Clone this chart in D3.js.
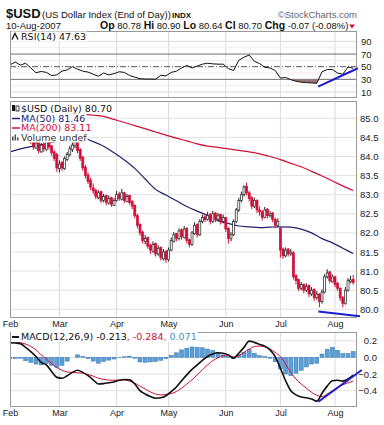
<!DOCTYPE html>
<html>
<head>
<meta charset="utf-8">
<script src="https://cdn.jsdelivr.net/npm/d3@7"></script>
<style>
	body { margin: 0; background: #fff; }
	svg { display: block; }
	text { font-family: "Liberation Sans", Arial, sans-serif; fill: #111; }
	.legend text, .legend tspan { font-family: "DejaVu Sans", Verdana, sans-serif; font-size: 9.5px; }
	.tick text { font-family: "Liberation Sans", Arial, sans-serif; font-size: 9.5px; fill: #222; }
</style>
</head>
<body>
<svg width="384" height="425"></svg>
<script>
// Trading-day index of the first session of each month (Feb 1 = day 0)
var month_days = [0, 19, 41, 61, 83, 104, 125];
var month_labels = ['Feb', 'Mar', 'Apr', 'May', 'Jun', 'Jul', 'Aug'];

// Daily bars, one row per session: open, high, low, close
var ohlc = [
	[84.55,84.72,84.50,84.62],[84.60,84.82,84.58,84.75],[84.78,84.85,84.62,84.70],[84.68,84.92,84.65,84.85],
	[84.88,84.90,84.62,84.70],[84.70,84.86,84.66,84.78],[84.80,84.82,84.55,84.60],[84.62,84.68,84.48,84.55],
	[84.55,84.58,84.32,84.40],[84.42,84.45,84.18,84.25],[84.22,84.42,84.20,84.35],[84.38,84.40,84.08,84.15],
	[84.12,84.36,84.10,84.30],[84.32,84.38,84.12,84.20],[84.18,84.46,84.15,84.40],[84.42,84.45,84.18,84.25],
	[84.28,84.30,84.02,84.10],[84.12,84.18,83.88,83.95],[84.05,84.10,83.60,83.70],[83.68,83.90,83.58,83.80],
	[83.85,83.88,83.62,83.70],[83.68,84.00,83.65,83.95],[83.92,84.12,83.88,84.05],[84.05,84.28,84.00,84.20],
	[84.18,84.38,84.12,84.30],[84.28,84.50,84.22,84.40],[84.42,84.45,84.08,84.15],[84.18,84.22,83.88,83.95],
	[83.98,84.02,83.62,83.70],[83.72,83.78,83.42,83.50],[83.52,83.58,83.28,83.35],[83.38,83.45,83.12,83.20],
	[83.18,83.30,83.02,83.10],[83.12,83.16,82.88,82.95],[82.92,83.12,82.88,83.05],[83.08,83.10,82.78,82.85],
	[82.85,83.02,82.80,82.95],[82.98,83.00,82.72,82.80],[82.78,82.98,82.74,82.90],[82.92,82.95,82.68,82.75],
	[82.72,82.92,82.70,82.85],[82.85,83.10,82.82,83.00],[83.02,83.08,82.84,82.90],[82.88,83.15,82.85,83.05],
	[83.05,83.08,82.78,82.85],[82.82,83.02,82.80,82.95],[82.98,83.00,82.74,82.80],[82.82,82.86,82.62,82.70],
	[82.72,82.75,82.38,82.45],[82.45,82.50,82.12,82.20],[82.22,82.25,81.92,82.00],[82.02,82.06,81.72,81.80],
	[81.78,81.95,81.70,81.85],[81.88,81.90,81.58,81.65],[81.68,81.72,81.45,81.55],[81.52,81.78,81.48,81.70],
	[81.72,81.75,81.38,81.45],[81.45,81.68,81.40,81.60],[81.62,81.65,81.28,81.35],[81.32,81.58,81.28,81.50],
	[81.52,81.55,81.22,81.30],[81.30,81.62,81.25,81.55],[81.55,81.88,81.52,81.80],[81.78,82.02,81.75,81.95],
	[81.98,82.00,81.78,81.85],[81.85,82.12,81.80,82.05],[82.08,82.12,81.82,81.90],[81.88,82.18,81.85,82.10],
	[82.12,82.15,81.72,81.80],[81.82,81.85,81.62,81.70],[81.70,82.05,81.66,82.00],[81.98,82.28,81.95,82.20],
	[82.22,82.25,81.88,81.95],[81.95,82.36,81.92,82.30],[82.30,82.48,82.25,82.40],[82.42,82.50,82.28,82.35],
	[82.35,82.55,82.32,82.45],[82.48,82.52,82.22,82.30],[82.30,82.58,82.26,82.50],[82.52,82.55,82.28,82.35],
	[82.35,82.52,82.30,82.45],[82.48,82.50,82.22,82.30],[82.30,82.48,82.25,82.40],[82.40,82.42,82.02,82.10],
	[82.12,82.15,81.72,81.85],[81.85,82.02,81.78,81.95],[81.95,82.35,81.92,82.30],[82.30,82.65,82.25,82.60],
	[82.60,82.92,82.55,82.85],[82.85,83.08,82.80,83.00],[83.00,83.25,82.95,83.20],[83.22,83.32,82.98,83.05],
	[83.05,83.10,82.82,82.90],[82.92,82.96,82.62,82.70],[82.70,82.92,82.65,82.85],[82.85,82.88,82.52,82.60],
	[82.60,82.70,82.45,82.55],[82.55,82.60,82.32,82.40],[82.40,82.68,82.38,82.60],[82.62,82.65,82.38,82.45],
	[82.45,82.58,82.40,82.50],[82.52,82.55,82.28,82.35],[82.35,82.40,82.12,82.20],[82.20,82.38,82.15,82.30],
	[82.12,82.15,81.35,81.55],[81.58,81.62,81.32,81.40],[81.40,81.62,81.36,81.55],[81.58,81.60,81.38,81.45],
	[81.45,81.58,81.40,81.50],[81.48,81.52,80.78,80.85],[80.88,80.92,80.65,80.75],[80.78,80.80,80.48,80.55],
	[80.55,80.72,80.50,80.65],[80.65,80.68,80.42,80.50],[80.50,80.68,80.45,80.60],[80.62,80.65,80.32,80.40],
	[80.40,80.58,80.35,80.50],[80.52,80.55,80.22,80.30],[80.30,80.48,80.25,80.40],[80.40,80.42,80.05,80.20],
	[80.20,80.52,80.15,80.45],[80.45,80.92,80.42,80.85],[80.85,81.05,80.80,80.95],[80.98,81.00,80.68,80.75],
	[80.72,80.92,80.70,80.85],[80.85,80.88,80.58,80.65],[80.68,80.72,80.48,80.55],[80.55,80.58,80.22,80.30],
	[80.30,80.35,80.05,80.15],[80.15,80.58,80.12,80.50],[80.50,80.82,80.46,80.75],[80.72,80.88,80.68,80.77],
	[80.78,80.90,80.64,80.70]
];

// Moving averages, read every 4th session
var ma_days = d3.range(0, 133, 4);
var ma50 = [84.12,84.20,84.26,84.31,84.37,84.42,84.47,84.48,84.39,84.27,84.10,83.91,83.69,83.41,83.14,82.99,82.84,
	82.69,82.57,82.46,82.32,82.25,82.18,82.16,82.14,82.15,82.16,82.15,82.10,82.00,81.85,81.74,81.60,81.46];
var ma200 = [85.27,85.24,85.21,85.19,85.16,85.13,85.12,85.10,85.08,85.05,84.97,84.89,84.81,84.73,84.64,84.56,84.48,
	84.41,84.33,84.27,84.24,84.20,84.16,84.12,84.07,84.00,83.92,83.82,83.73,83.61,83.49,83.36,83.23,83.11];

// Indicators, read every 2nd session
var ind_days = d3.range(0, 133, 2);
var rsi = [52.7,57.5,52.5,55.5,48,40.5,42.5,41,36,37,43,45,50,46,43,41.5,38,35,40,37,
	39,42,41,36,33.5,31,30.5,30.5,30.2,36.5,35.5,41,43,48,52,48,51,54,55.5,54.5,
	54,54,47,44,60,65,68.5,58.5,55,49,48,44,32,33,29.5,27,25.5,24.8,24.3,23.8,
	42,45.5,45.5,40,38,49.5,47.63];
var macd = [0.175,0.172,0.165,0.12,0.07,0.01,-0.06,-0.09,-0.17,-0.24,-0.25,-0.22,-0.18,-0.155,-0.18,-0.22,-0.27,-0.32,-0.315,-0.305,
	-0.295,-0.275,-0.265,-0.27,-0.32,-0.40,-0.44,-0.47,-0.49,-0.485,-0.46,-0.41,-0.355,-0.28,-0.21,-0.145,-0.09,-0.035,0.01,0.04,
	0.055,0.05,0.03,-0.01,0.05,0.12,0.195,0.18,0.155,0.135,0.09,0.01,-0.13,-0.28,-0.40,-0.45,-0.475,-0.485,-0.50,-0.525,
	-0.43,-0.345,-0.28,-0.275,-0.285,-0.26,-0.213];
var signal = [0.19,0.185,0.175,0.16,0.13,0.09,0.03,-0.02,-0.075,-0.12,-0.155,-0.175,-0.18,-0.185,-0.19,-0.205,-0.225,-0.25,-0.265,-0.272,
	-0.275,-0.272,-0.272,-0.285,-0.31,-0.345,-0.38,-0.415,-0.44,-0.45,-0.445,-0.435,-0.41,-0.37,-0.32,-0.27,-0.21,-0.15,-0.09,-0.04,
	-0.005,0.02,0.02,0.005,0.02,0.06,0.10,0.13,0.135,0.125,0.10,0.06,0.01,-0.08,-0.18,-0.26,-0.32,-0.37,-0.42,-0.455,
	-0.47,-0.44,-0.40,-0.36,-0.33,-0.305,-0.284];

// Hand-drawn trend lines: [day, value] end points
var price_trend = [[118.6, 79.94], [134.6, 79.82]];
var rsi_trend = [[118.5, 18.4], [133.8, 47.5]];
var macd_trend = [[118.6, -0.532], [135.3, -0.152]];

var price_ticks = [80, 80.5, 81, 81.5, 82, 82.5, 83, 83.5, 84, 84.5, 85];
var rsi_ticks = [10, 30, 50, 70, 90];
var macd_ticks = [-0.4, -0.2, 0, 0.2];

var plot_left = 10;
var plot_right = 357;
var rsi_box = [31, 98];
var price_box = [101, 318];
var macd_box = [332, 407];

var svg = d3.select('svg');
var x = d3.scaleLinear().domain([0, 132]).range([10, 353.2]);
var y_rsi = d3.scaleLinear().domain([10, 90]).range([92, 41.4]);
var y_price = d3.scaleLinear().domain([80, 85]).range([309.3, 118.3]);
var y_macd = d3.scaleLinear().domain([-0.4, 0.2]).range([390.7, 340.7]);

var red = '#d0103a';
var navy = '#22226e';
var blue_line = '#1c1ccf';

// Header
var header = svg.append('g');
header.append('text').attr('x', 6).attr('y', 18)
	.style('font-size', '13px').style('font-weight', 'bold').text('$USD');
header.append('text').attr('x', 42).attr('y', 18)
	.style('font-size', '9.5px').text('(US Dollar Index (End of Day))');
header.append('text').attr('x', 172).attr('y', 18)
	.style('font-size', '8px').style('font-weight', 'bold').text('INDX');
header.append('text').attr('x', 357).attr('y', 18).attr('text-anchor', 'end')
	.style('font-size', '9.5px').style('fill', '#666').text('\u00a9StockCharts.com');
header.append('text').attr('x', 6).attr('y', 28.5)
	.style('font-size', '9.5px').text('10-Aug-2007');

var quote = header.append('text').attr('x', 100).attr('y', 28.5).style('font-size', '9.5px');
[['Op', ' 80.78 '], ['Hi', ' 80.90 '], ['Lo', ' 80.64 '], ['Cl', ' 80.70 '], ['Chg', ' -0.07 (-0.08%)']].forEach(function(p)
{
	quote.append('tspan').style('font-weight', 'bold').style('font-size', '10.5px').text(p[0]);
	quote.append('tspan').text(p[1]);
});
header.append('path')
	.attr('d', 'M 349 24.5 L 355 24.5 L 352 28.5 Z')
	.attr('fill', red);

// Panel frames, grids and clipping
function make_panel(box, id)
{
	var g = svg.append('g');
	g.append('rect')
		.attr('x', plot_left).attr('y', box[0])
		.attr('width', plot_right - plot_left).attr('height', box[1] - box[0])
		.attr('fill', '#fff');
	svg.append('clipPath').attr('id', id).append('rect')
		.attr('x', plot_left).attr('y', box[0])
		.attr('width', plot_right - plot_left).attr('height', box[1] - box[0]);
	g.selectAll('.vgrid')
		.data(month_days.slice(1))
		.enter().append('line')
		.attr('x1', d => x(d)).attr('x2', d => x(d))
		.attr('y1', box[0]).attr('y2', box[1])
		.attr('stroke', '#d9d9d9').attr('stroke-width', 1);
	return g;
}

function hgrid(g, values, scale, color)
{
	g.selectAll(null)
		.data(values)
		.enter().append('line')
		.attr('x1', plot_left).attr('x2', plot_right)
		.attr('y1', d => scale(d)).attr('y2', d => scale(d))
		.attr('stroke', color).attr('stroke-width', 1);
}

// RSI panel
var rsi_g = make_panel(rsi_box, 'clip_rsi');
hgrid(rsi_g, [20, 40, 60, 80], y_rsi, '#ececec');
hgrid(rsi_g, [10, 90], y_rsi, '#dadada');
hgrid(rsi_g, [30, 70], y_rsi, '#707070');
rsi_g.append('line')
	.attr('x1', plot_left).attr('x2', plot_right)
	.attr('y1', y_rsi(50)).attr('y2', y_rsi(50))
	.attr('stroke', '#555').attr('stroke-dasharray', '6,2,1,2');

var rsi_pts = ind_days.map((d, i) => [d, rsi[i]]);
var rsi_plot = svg.append('g').attr('clip-path', 'url(#clip_rsi)');
svg.append('clipPath').attr('id', 'clip_rsi_low').append('rect')
	.attr('x', plot_left).attr('y', y_rsi(30))
	.attr('width', plot_right - plot_left).attr('height', rsi_box[1] - y_rsi(30));
rsi_plot.append('path')
	.datum(rsi_pts)
	.attr('clip-path', 'url(#clip_rsi_low)')
	.attr('fill', '#9c7674')
	.attr('d', d3.area().x(d => x(d[0])).y0(y_rsi(30)).y1(d => y_rsi(d[1])));
rsi_plot.append('path')
	.datum(rsi_pts)
	.attr('fill', 'none').attr('stroke', '#111').attr('stroke-width', 1)
	.attr('d', d3.line().x(d => x(d[0])).y(d => y_rsi(d[1])));

// Price panel
var price_g = make_panel(price_box, 'clip_price');
hgrid(price_g, price_ticks, y_price, '#e2e2e2');
var price_plot = svg.append('g').attr('clip-path', 'url(#clip_price)');

price_plot.append('path')
	.datum(ma200)
	.attr('fill', 'none').attr('stroke', red).attr('stroke-width', 1.2)
	.attr('d', d3.line().x((d, i) => x(ma_days[i])).y(d => y_price(d)).curve(d3.curveMonotoneX));
price_plot.append('path')
	.datum(ma50)
	.attr('fill', 'none').attr('stroke', navy).attr('stroke-width', 1.2)
	.attr('d', d3.line().x((d, i) => x(ma_days[i])).y(d => y_price(d)).curve(d3.curveMonotoneX));

function bar_color(d, i)
{
	var prev = i > 0 ? ohlc[i - 1][3] : d[0];
	return d[3] < prev ? red : '#222';
}
var candles = price_plot.selectAll('.candle')
	.data(ohlc)
	.enter().append('g')
	.attr('class', 'candle');
candles.append('line')
	.attr('x1', (d, i) => x(i)).attr('x2', (d, i) => x(i))
	.attr('y1', d => y_price(d[1])).attr('y2', d => y_price(d[2]))
	.attr('stroke', bar_color).attr('stroke-width', 1);
candles.append('rect')
	.attr('x', (d, i) => x(i) - 1)
	.attr('width', 2)
	.attr('y', d => y_price(Math.max(d[0], d[3])))
	.attr('height', d => Math.max(1, Math.abs(y_price(d[0]) - y_price(d[3]))))
	.attr('fill', (d, i) => d[3] > d[0] ? '#fff' : bar_color(d, i))
	.attr('stroke', bar_color).attr('stroke-width', 0.7);

// MACD panel
var macd_g = make_panel(macd_box, 'clip_macd');
hgrid(macd_g, macd_ticks, y_macd, '#e2e2e2');
var macd_plot = svg.append('g').attr('clip-path', 'url(#clip_macd)');
var hist = ind_days.map((d, i) => [d, macd[i] - signal[i]]);
macd_plot.selectAll('.hist')
	.data(hist)
	.enter().append('rect')
	.attr('x', d => x(d[0]) - 2)
	.attr('width', 4)
	.attr('y', d => Math.min(y_macd(0), y_macd(d[1])))
	.attr('height', d => Math.abs(y_macd(d[1]) - y_macd(0)))
	.attr('fill', '#5b9fd6').attr('stroke', '#2f73b4').attr('stroke-width', 0.5);
macd_plot.append('path')
	.datum(signal)
	.attr('fill', 'none').attr('stroke', red).attr('stroke-width', 1)
	.attr('d', d3.line().x((d, i) => x(ind_days[i])).y(d => y_macd(d)).curve(d3.curveMonotoneX));
macd_plot.append('path')
	.datum(macd)
	.attr('fill', 'none').attr('stroke', '#111').attr('stroke-width', 1.6)
	.attr('d', d3.line().x((d, i) => x(ind_days[i])).y(d => y_macd(d)).curve(d3.curveMonotoneX));

// Trend lines (drawn past the right edge, as in the original)
function trend(pts, scale)
{
	svg.append('line')
		.attr('x1', x(pts[0][0])).attr('y1', scale(pts[0][1]))
		.attr('x2', x(pts[1][0])).attr('y2', scale(pts[1][1]))
		.attr('stroke', blue_line).attr('stroke-width', 2);
}

// Borders
[rsi_box, price_box, macd_box].forEach(function(b)
{
	svg.append('rect')
		.attr('x', plot_left + 0.5).attr('y', b[0] + 0.5)
		.attr('width', plot_right - plot_left - 1).attr('height', b[1] - b[0] - 1)
		.attr('fill', 'none').attr('stroke', '#9a9a9a').attr('stroke-width', 1);
});

trend(price_trend, y_price);
trend(rsi_trend, y_rsi);
trend(macd_trend, y_macd);

// Axes
function clean(g)
{
	g.select('.domain').remove();
}
svg.append('g').attr('transform', 'translate(358,0)')
	.call(d3.axisRight(y_price).tickValues(price_ticks).tickFormat(d3.format('.1f')).tickSize(0).tickPadding(2))
	.call(clean);
svg.append('g').attr('transform', 'translate(359,0)')
	.call(d3.axisRight(y_rsi).tickValues(rsi_ticks).tickFormat(d3.format('d')).tickSize(0).tickPadding(2))
	.call(clean);
svg.append('g').attr('transform', 'translate(377,0)')
	.call(d3.axisLeft(y_macd).tickValues(macd_ticks).tickFormat(d3.format('.1f')).tickSize(0).tickPadding(0))
	.call(clean);
var month_axis = d3.axisBottom(x).tickValues(month_days).tickFormat((d, i) => month_labels[i]).tickSize(0).tickPadding(3);
svg.append('g').attr('transform', 'translate(0,' + price_box[1] + ')').call(month_axis).call(clean);
svg.append('g').attr('transform', 'translate(0,' + macd_box[1] + ')').call(month_axis).call(clean);
svg.selectAll('.tick text').filter(function() { return /^[A-Z]/.test(this.textContent); })
	.style('font-size', '9px');

// Legends with white backing
function legend_row(g, x0, y0, parts, icon)
{
	var row = g.append('g');
	var bg = row.append('rect').attr('fill', '#fff');
	var t = row.append('text').attr('x', x0 + 10).attr('y', y0);
	parts.forEach(p => t.append('tspan').style('fill', p[1]).text(p[0]));
	var w = t.node().getComputedTextLength();
	bg.attr('x', x0).attr('y', y0 - 8).attr('width', w + 11).attr('height', 10);
	if(icon) icon(row, x0, y0);
	return row;
}
var legend = svg.append('g').attr('class', 'legend');
legend_row(legend, 11, 39.5, [['RSI(14) 47.63', '#111']], function(r, x0, y0)
{
	r.append('path').attr('d', `M ${x0 + 1} ${y0} L ${x0 + 4} ${y0 - 6} L ${x0 + 7} ${y0}`)
		.attr('fill', 'none').attr('stroke', '#111').attr('stroke-width', 1.3);
});
legend_row(legend, 11, 112, [['$USD (Daily) 80.70', '#111']], function(r, x0, y0)
{
	r.append('rect').attr('x', x0 + 1).attr('y', y0 - 7).attr('width', 3).attr('height', 6).attr('fill', '#111');
	r.append('rect').attr('x', x0 + 5).attr('y', y0 - 6).attr('width', 3).attr('height', 5).attr('fill', 'none').attr('stroke', '#111').attr('stroke-width', 0.8);
});
legend_row(legend, 11, 121.5, [['MA(50) 81.46', navy]], function(r, x0, y0)
{
	r.append('line').attr('x1', x0 + 1).attr('x2', x0 + 9).attr('y1', y0 - 3).attr('y2', y0 - 3).attr('stroke', navy).attr('stroke-width', 1.5);
});
legend_row(legend, 11, 131, [['MA(200) 83.11', red]], function(r, x0, y0)
{
	r.append('line').attr('x1', x0 + 1).attr('x2', x0 + 9).attr('y1', y0 - 3).attr('y2', y0 - 3).attr('stroke', red).attr('stroke-width', 1.5);
});
legend_row(legend, 11, 140.5, [['Volume undef', '#333']], function(r, x0, y0)
{
	[[1, 4], [3.5, 6], [6, 3]].forEach(b => r.append('rect')
		.attr('x', x0 + b[0]).attr('y', y0 - b[1]).attr('width', 1.6).attr('height', b[1]).attr('fill', '#555'));
});
legend_row(legend, 11, 340, [['MACD(12,26,9) -0.213', '#111'], [', -0.284', red], [', 0.071', '#4a90cc']], function(r, x0, y0)
{
	r.append('line').attr('x1', x0 + 1).attr('x2', x0 + 8).attr('y1', y0 - 3).attr('y2', y0 - 3).attr('stroke', '#111').attr('stroke-width', 2);
});
</script>
</body>
</html>
